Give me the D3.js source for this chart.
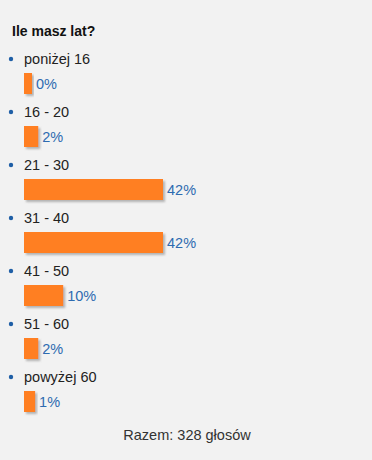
<!DOCTYPE html>
<html>
<head>
<meta charset="utf-8">
<script src="https://cdn.jsdelivr.net/npm/d3@7"></script>
<style>
  body { margin: 0; background: #f2f2f2; }
  svg { display: block; font-family: "Liberation Sans", Arial, sans-serif; }
</style>
</head>
<body>
<svg id="chart" width="372" height="460"></svg>
<script>
var title = "Ile masz lat?";
var categories = ["poniżej 16", "16 - 20", "21 - 30", "31 - 40", "41 - 50", "51 - 60", "powyżej 60"];
var percents = [0, 2, 42, 42, 10, 2, 1];
var totalText = "Razem: 328 głosów";

var svg = d3.select("#chart");

var defs = svg.append("defs");
var filter = defs.append("filter").attr("id", "shadow")
    .attr("x", "-10%").attr("y", "-10%").attr("width", "130%").attr("height", "140%");
filter.append("feDropShadow")
    .attr("dx", 2).attr("dy", 2).attr("stdDeviation", 1.2)
    .attr("flood-color", "#888").attr("flood-opacity", 0.6);

// item rows
var scaleY = d3.scaleBand()
    .domain(categories)
    .range([45, 416]);

var scaleX = d3.scaleLinear()
    .domain([0, 42])
    .range([8, 139]);

svg.append("text")
    .attr("x", 12)
    .attr("y", 36)
    .attr("font-size", "14px")
    .attr("font-weight", "bold")
    .attr("fill", "#111")
    .text(title);

var items = svg.selectAll(".item")
    .data(categories)
    .enter().append("g")
    .attr("class", "item")
    .attr("transform", d => `translate(0,${scaleY(d)})`);

items.append("circle")
    .attr("cx", 11)
    .attr("cy", 14)
    .attr("r", 2.2)
    .attr("fill", "#1f5fa6");

items.append("text")
    .attr("x", 24)
    .attr("y", 19)
    .attr("font-size", "14.5px")
    .attr("fill", "#222")
    .text(d => d);

items.append("rect")
    .attr("x", 24)
    .attr("y", 28)
    .attr("width", (d, i) => scaleX(percents[i]))
    .attr("height", 21)
    .attr("fill", "#ff7f24")
    .attr("filter", "url(#shadow)");

items.append("text")
    .attr("x", (d, i) => 24 + scaleX(percents[i]) + 4)
    .attr("y", 44)
    .attr("font-size", "14.5px")
    .attr("fill", "#2e6bb0")
    .text((d, i) => percents[i] + "%");

svg.append("text")
    .attr("x", 187)
    .attr("y", 440)
    .attr("text-anchor", "middle")
    .attr("font-size", "14.5px")
    .attr("fill", "#333")
    .text(totalText);
</script>
</body>
</html>
